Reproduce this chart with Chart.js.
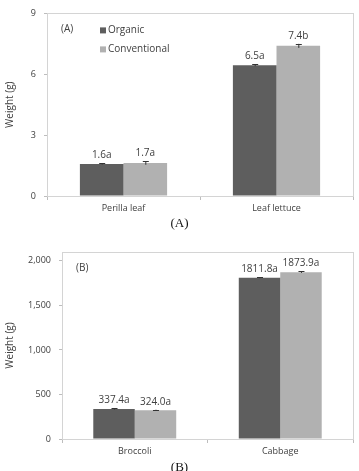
<!DOCTYPE html>
<html>
<head>
  <script src="https://cdn.jsdelivr.net/npm/chart.js"></script>
  <title>Weight charts</title>
  <style>
    body { margin: 0; background: #fff; width: 359px; height: 471px; position: relative; overflow: hidden; }
    .wrap { position: absolute; left: 0; width: 359px; }
    .caption { position: absolute; width: 359px; text-align: center; font-family: "Liberation Serif", "DejaVu Serif", serif; font-size: 13px; color: #111; }
  </style>
</head>
<body>
  <div class="wrap" style="top:0;height:218px"><canvas id="chartA" width="359" height="218"></canvas></div>
  <div class="caption" style="top:215px">(A)</div>
  <div class="wrap" style="top:238px;height:224px"><canvas id="chartB" width="359" height="224"></canvas></div>
  <div class="caption" style="top:459px">(B)</div>

  <script>
    // Panel A data
    const catsA = ['Perilla leaf', 'Leaf lettuce'];
    const organicA = [1.58, 6.45];
    const conventionalA = [1.63, 7.4];
    const organicErrA = [0.03, 0.05];
    const conventionalErrA = [0.09, 0.1];
    const organicLabA = ['1.6a', '6.5a'];
    const conventionalLabA = ['1.7a', '7.4b'];
    const ticksA = [0, 3, 6, 9];

    // Panel B data
    const catsB = ['Broccoli', 'Cabbage'];
    const organicB = [337.4, 1811.8];
    const conventionalB = [324.0, 1873.9];
    const organicErrB = [6, 6];
    const conventionalErrB = [5, 9];
    const organicLabB = ['337.4a', '1811.8a'];
    const conventionalLabB = ['324.0a', '1873.9a'];
    const ticksB = [0, 500, 1000, 1500, 2000];

    const darkGray = '#5e5e5e';
    const lightGray = '#b1b1b1';
    const textColor = '#404040';
    const fontFam = '"Open Sans", "Liberation Sans", sans-serif';

    // frame round the plot area
    const framePlugin = {
      id: 'frame',
      beforeDatasetsDraw(chart) {
        const a = chart.chartArea, ctx = chart.ctx;
        ctx.save();
        ctx.strokeStyle = '#d4d4d4';
        ctx.lineWidth = 1;
        ctx.strokeRect(Math.round(a.left) + 0.5, Math.round(a.top) + 0.5, Math.round(a.right - a.left), Math.round(a.bottom - a.top));
        ctx.restore();
      }
    };

    // error bars and value labels
    const extrasPlugin = {
      id: 'extras',
      afterDatasetsDraw(chart, args, opts) {
        const ctx = chart.ctx, y = chart.scales.y;
        ctx.save();
        chart.data.datasets.forEach((ds, i) => {
          const meta = chart.getDatasetMeta(i);
          meta.data.forEach((bar, j) => {
            const v = ds.data[j], e = opts.errors[i][j];
            const yTop = y.getPixelForValue(v + e);
            const yBot = y.getPixelForValue(v - e);
            ctx.strokeStyle = '#333';
            ctx.lineWidth = 1;
            ctx.beginPath();
            ctx.moveTo(bar.x + 0.5, yTop); ctx.lineTo(bar.x + 0.5, yBot);
            ctx.moveTo(bar.x - 2.5, Math.round(yTop) + 0.5); ctx.lineTo(bar.x + 3.5, Math.round(yTop) + 0.5);
            ctx.stroke();
            ctx.fillStyle = textColor;
            ctx.font = '10px ' + fontFam;
            ctx.textAlign = 'center';
            ctx.textBaseline = 'bottom';
            ctx.fillText(opts.labels[i][j], bar.x, yTop - 3);
          });
        });
        ctx.restore();
      }
    };

    // legend and panel tag inside the plot
    const insidePlugin = {
      id: 'inside',
      afterDraw(chart, args, opts) {
        const a = chart.chartArea, ctx = chart.ctx;
        ctx.save();
        ctx.fillStyle = textColor;
        ctx.font = '10px ' + fontFam;
        ctx.textBaseline = 'middle';
        ctx.fillText(opts.tag, a.left + 14, a.top + 16);
        if (opts.legend) {
          chart.data.datasets.forEach((ds, i) => {
            const ly = a.top + 17 + i * 19;
            ctx.fillStyle = ds.backgroundColor;
            ctx.fillRect(a.left + 53, ly - 3, 6, 6);
            ctx.fillStyle = textColor;
            ctx.fillText(ds.label, a.left + 61, ly);
          });
        }
        ctx.restore();
      }
    };

    function makeChart(id, cats, org, conv, errs, labs, tickVals, max, opts) {
      new Chart(document.getElementById(id), {
        type: 'bar',
        data: {
          labels: cats,
          datasets: [
            { label: 'Organic', data: org, backgroundColor: darkGray, categoryPercentage: 0.57, barPercentage: 1 },
            { label: 'Conventional', data: conv, backgroundColor: lightGray, categoryPercentage: 0.57, barPercentage: 1 }
          ]
        },
        options: {
          responsive: false,
          animation: false,
          layout: { padding: { top: opts.padTop, right: 6, left: 4, bottom: 0 } },
          plugins: {
            legend: { display: false },
            tooltip: { enabled: false },
            extras: { errors: errs, labels: labs },
            inside: { tag: opts.tag, legend: opts.legend }
          },
          scales: {
            x: {
              grid: { display: true, drawOnChartArea: false, offset: true, tickLength: 4, color: '#bdbdbd' },
              border: { color: '#bdbdbd' },
              ticks: { color: textColor, font: { family: fontFam, size: 9 }, padding: 3 },
              afterFit(s) { s.height = opts.xHeight; }
            },
            y: {
              min: 0,
              max: max,
              grid: { display: true, drawOnChartArea: false, tickLength: 3, color: '#bdbdbd' },
              border: { color: '#bdbdbd' },
              afterBuildTicks(s) { s.ticks = tickVals.map(v => ({ value: v })); },
              ticks: {
                color: textColor,
                font: { family: fontFam, size: 9 },
                padding: 8,
                callback: v => v.toLocaleString('en-US')
              },
              title: { display: true, text: 'Weight (g)', color: textColor, font: { family: fontFam, size: 10 }, padding: 0 },
              afterFit(s) { s.width = opts.yWidth - 4; }
            }
          }
        },
        plugins: [framePlugin, extrasPlugin, insidePlugin]
      });
    }

    makeChart('chartA', catsA, organicA, conventionalA, [organicErrA, conventionalErrA],
      [organicLabA, conventionalLabA], ticksA, 9, { padTop: 7, xHeight: 22, yWidth: 47, tag: '(A)', legend: true });
    makeChart('chartB', catsB, organicB, conventionalB, [organicErrB, conventionalErrB],
      [organicLabB, conventionalLabB], ticksB, 2100, { padTop: 14, xHeight: 23, yWidth: 62, tag: '(B)', legend: false });
  </script>
</body>
</html>
